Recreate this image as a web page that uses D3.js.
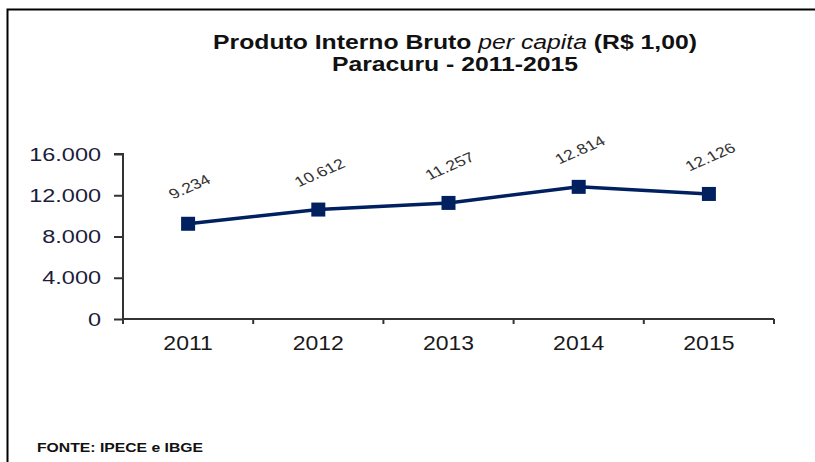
<!DOCTYPE html>
<html lang="pt">
<head>
    <title>PIB per capita - Paracuru</title>
    <script src="https://d3js.org/d3.v7.min.js"></script>
    <style>
        body { margin: 0; background: #fff; }
        svg { display: block; }
    </style>
</head>
<body>
<script>
    // Data
    const years  = ["2011", "2012", "2013", "2014", "2015"];
    const values = [9234, 10612, 11257, 12814, 12126];
    const yTicks = [0, 4000, 8000, 12000, 16000];

    const width = 815, height = 462;
    const fmt = d3.format(",.0f");
    const ptBR = v => fmt(v).replace(/,/g, ".");
    // the original picture is stretched sideways, so text gets a wider x scale
    const stretch = 1.27;

    const svg = d3.select("body").append("svg")
        .attr("width", width)
        .attr("height", height)
        .style("font-family", "Liberation Sans, Arial, sans-serif");

    // frame (top and left edges)
    svg.append("path")
        .attr("d", "M7.5,462 V9.5 H815")
        .attr("fill", "none")
        .attr("stroke", "#000")
        .attr("stroke-width", 2);

    // title
    const title = svg.append("g")
        .attr("transform", `translate(455,0) scale(${stretch},1)`)
        .append("text")
        .attr("text-anchor", "middle")
        .attr("font-weight", "bold")
        .attr("font-size", 19.5)
        .attr("fill", "#111");
    const t1 = title.append("tspan").attr("x", 0).attr("y", 49);
    t1.append("tspan").text("Produto Interno Bruto ");
    t1.append("tspan").attr("font-style", "italic").attr("font-weight", "normal").text("per capita");
    t1.append("tspan").text(" (R$ 1,00)");
    title.append("tspan").attr("x", 0).attr("y", 71).text("Paracuru - 2011-2015");

    // scales
    const x = d3.scaleBand().domain(years).range([123, 774]);
    const y = d3.scaleLinear().domain([0, 16000]).range([319, 154]);

    // y axis
    const yAxis = svg.append("g")
        .attr("transform", "translate(123,0)")
        .call(d3.axisLeft(y).tickValues(yTicks).tickSize(9).tickFormat(""));
    yAxis.select(".domain").attr("stroke", "#333").attr("stroke-width", 2).attr("d", "M-9,154 H0 V322");
    yAxis.selectAll(".tick line").attr("stroke", "#333").attr("stroke-width", 2);

    svg.selectAll("text.ylab").data(yTicks).enter().append("text")
        .attr("class", "ylab")
        .attr("transform", d => `translate(101,${y(d)}) scale(${stretch},1)`)
        .attr("text-anchor", "end")
        .attr("dy", "0.36em")
        .attr("font-size", 18.5)
        .attr("fill", "#1c1c3c")
        .text(ptBR);

    // x axis with ticks at category boundaries
    const xAxis = svg.append("g")
        .attr("transform", "translate(0,319)");
    xAxis.append("line")
        .attr("x1", 123).attr("x2", x.range()[1])
        .attr("stroke", "#333").attr("stroke-width", 2);
    const bounds = years.map(d => x(d)).concat([x.range()[1]]);
    xAxis.selectAll("line.bound").data(bounds).enter().append("line")
        .attr("class", "bound")
        .attr("x1", d => d).attr("x2", d => d)
        .attr("y1", 0).attr("y2", 5)
        .attr("stroke", "#333").attr("stroke-width", 2);
    xAxis.selectAll("text").data(years).enter().append("text")
        .attr("transform", d => `translate(${x(d) + x.bandwidth() / 2},30.5) scale(1.15,1)`)
        .attr("text-anchor", "middle")
        .attr("font-size", 20)
        .attr("fill", "#1a1a1a")
        .text(d => d);

    // line
    const pts = years.map((d, i) => ({ year: d, v: values[i] }));
    const cx = d => x(d.year) + x.bandwidth() / 2;

    svg.append("path")
        .datum(pts)
        .attr("fill", "none")
        .attr("stroke", "#002060")
        .attr("stroke-width", 3.5)
        .attr("d", d3.line().x(cx).y(d => y(d.v)));

    // markers
    const ms = 14;
    svg.selectAll("rect.mk").data(pts).enter().append("rect")
        .attr("class", "mk")
        .attr("x", d => cx(d) - ms / 2)
        .attr("y", d => y(d.v) - ms / 2)
        .attr("width", ms).attr("height", ms)
        .attr("fill", "#002060");

    // value labels
    svg.selectAll("text.lbl").data(pts).enter().append("text")
        .attr("class", "lbl")
        .attr("transform", d => `translate(${cx(d) + 2},${y(d.v) - 36}) scale(${stretch},1) rotate(-29)`)
        .attr("text-anchor", "middle")
        .attr("dominant-baseline", "middle")
        .attr("font-size", 14)
        .attr("fill", "#333")
        .text(d => ptBR(d.v));

    // source
    svg.append("text")
        .attr("x", 37).attr("y", 452)
        .attr("font-size", 12)
        .attr("font-weight", "bold")
        .attr("textLength", 166)
        .attr("lengthAdjust", "spacingAndGlyphs")
        .attr("fill", "#111")
        .text("FONTE: IPECE e IBGE");
</script>
</body>
</html>
